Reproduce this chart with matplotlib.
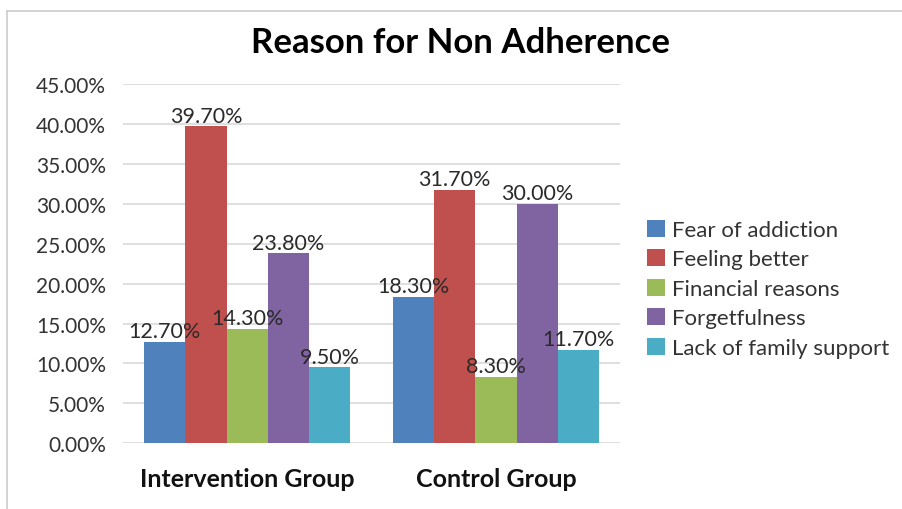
import matplotlib.pyplot as plt
import numpy as np
from matplotlib.lines import Line2D

groups = ["Intervention Group", "Control Group"]
reasons = ["Fear of addiction", "Feeling better", "Financial reasons",
           "Forgetfulness", "Lack of family support"]
intervention = [12.7, 39.7, 14.3, 23.8, 9.5]
control = [18.3, 31.7, 8.3, 30.0, 11.7]
colors = ["#4F81BD", "#C0504D", "#9BBB59", "#8064A2", "#4BACC6"]

plt.rcParams["font.family"] = ["Lato", "DejaVu Sans"]

fig = plt.figure(figsize=(9.03, 5.10), dpi=100)
ax = fig.add_axes([0.136, 0.129, 0.551, 0.704])

x = np.arange(len(groups))
w = 0.166
for i, r in enumerate(reasons):
    vals = [intervention[i] / 100, control[i] / 100]
    pos = x + (i - 2) * w
    ax.bar(pos, vals, w, color=colors[i], label=r)
    for p, v in zip(pos, vals):
        ax.text(p, v + 0.001, "%.2f%%" % (v * 100), ha="center", va="bottom",
                fontsize=15.5, color="#2a2a2a")

ax.set_xlim(-0.5, 1.5)
ax.set_ylim(0, 0.45)
ticks = np.arange(0, 0.451, 0.05)
ax.set_yticks(ticks)
ax.set_yticklabels(["%.2f%%" % (t * 100) for t in ticks],
                   fontsize=15, color="#333333")
ax.set_xticks(x)
ax.set_xticklabels(groups, fontsize=18, fontweight="bold", color="#111111")
ax.tick_params(length=0, pad=12)
ax.tick_params(axis="x", pad=17)
ax.grid(axis="y", color="#d9d9d9", linewidth=1.2)
ax.set_axisbelow(True)
for s in ax.spines.values():
    s.set_visible(False)

ax.legend(loc="center left", bbox_to_anchor=(1.054, 0.43), frameon=False,
          fontsize=16, handlelength=0.8, handleheight=0.8, handletextpad=0.3,
          labelspacing=0.42, borderpad=0, borderaxespad=0,
          labelcolor="#333333")

fig.suptitle("Reason for Non Adherence", x=0.51, y=0.948, fontsize=25,
             fontweight="bold")

# light chart border on the top and left
fig.add_artist(Line2D([0.008, 1.0], [0.976, 0.976], color="#cccccc", lw=1.2))
fig.add_artist(Line2D([0.008, 0.008], [0.0, 0.976], color="#cccccc", lw=1.2))

fig.savefig("out.png", dpi=100)
